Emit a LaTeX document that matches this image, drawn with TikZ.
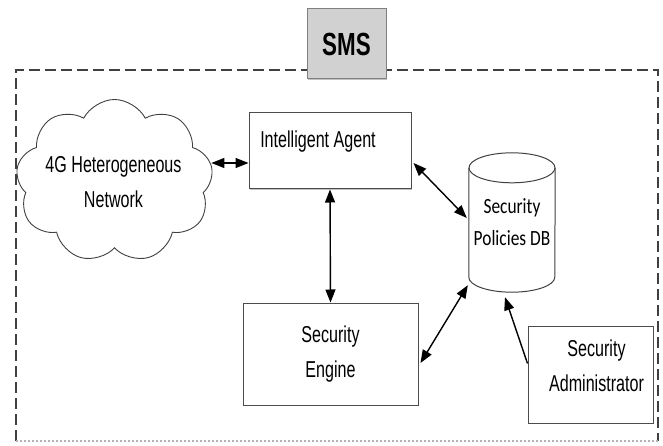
\documentclass[tikz,border=0pt]{standalone}
\usepackage{fontspec}
\setmainfont{Liberation Sans}[FakeStretch=0.7]
\newfontfamily\dbfont{Carlito}[FakeStretch=0.8]
\usetikzlibrary{shapes.symbols,arrows.meta,calc,shadows}
\begin{document}
\begin{tikzpicture}[x=1pt,y=-1pt,
  lbl/.style={font=\fontsize{23}{35}\selectfont, align=center},
  boxed/.style={draw=black!70, line width=1pt, fill=white, inner sep=0pt,
    drop shadow={shadow xshift=1pt, shadow yshift=-1pt, fill=black!40, opacity=0.6}},
  link/.style={line width=1.4pt, {Triangle[length=13pt,width=10pt]}-{Triangle[length=13pt,width=10pt]}},
  onelink/.style={line width=1.4pt, -{Triangle[length=13pt,width=10pt]}},
  framed/.style={line width=1.4pt, draw=black!75, dash pattern=on 11pt off 5pt},
  faint/.style={line width=1.5pt, draw=black!30, dash pattern=on 2pt off 2pt},
  dbline/.style={draw=black!75, line width=1pt},
]
\useasboundingbox (0,0) rectangle (663,446);
% frame
\draw[framed] (16,441) -- (16,70) -- (658,70) -- (658,441);
\draw[faint] (16,441) -- (658,441);
% title
\node[boxed, fill=black!18, draw=black!50, minimum width=79pt, minimum height=70pt,
  font=\bfseries\fontsize{32}{32}\selectfont] (sms) at (346.5,44) {SMS};
% cloud
\node[cloud, draw=black!75, line width=0.9pt, cloud puffs=9, cloud puff arc=125,
  aspect=1.2, minimum width=197pt, minimum height=163pt, inner sep=0pt]
  (net) at (114.5,181) {};
\node[lbl] (nettext) at ($(net.center)+(-1,1)$) {4G Heterogeneous\\Network};
% boxes
\node[boxed, minimum width=162pt, minimum height=76pt] (ia) at (330,151) {};
\node[lbl] (iatext) at ($(ia.center)+(-12,-9)$) {Intelligent Agent};
\node[boxed, minimum width=175pt, minimum height=102pt, lbl] (se) at (330.5,354) {Security\\Engine};
\node[boxed, minimum width=125pt, minimum height=97pt] (sa) at (590.5,374.5) {};
\node[lbl] (satext) at ($(sa.center)+(6,-9)$) {Security\\Administrator};
% database
\node[inner sep=0pt, minimum width=86pt, minimum height=139pt,
  font=\dbfont\fontsize{21.7}{32}\selectfont, align=center] (db) at (512,222.5) {Security\\Policies DB};
\draw[dbline] ($(db.north)+(0,15)$) ellipse [x radius=43, y radius=15];
\draw[dbline] ($(db.north west)+(0,15)$) -- ($(db.south west)+(0,-15)$)
  arc[start angle=180, end angle=0, x radius=43, y radius=15] -- ($(db.north east)+(0,15)$);
% connectors
\coordinate (iaw) at ($(ia.west)+(0,12)$);
\draw[link] (net.east |- iaw) -- (iaw);
\draw[link] ($(ia.east)+(2,12)$) -- ($(db.west)+(-2,-4.5)$);
\draw[link] (ia.south) -- (se.north);
\draw[link] ($(se.east)+(2,9)$) -- ($(db.south west)+(-1,-7)$);
\draw[onelink] ($(sa.west)+(0,-11)$) -- ($(db.south)+(-7,5)$);
\end{tikzpicture}
\end{document}
